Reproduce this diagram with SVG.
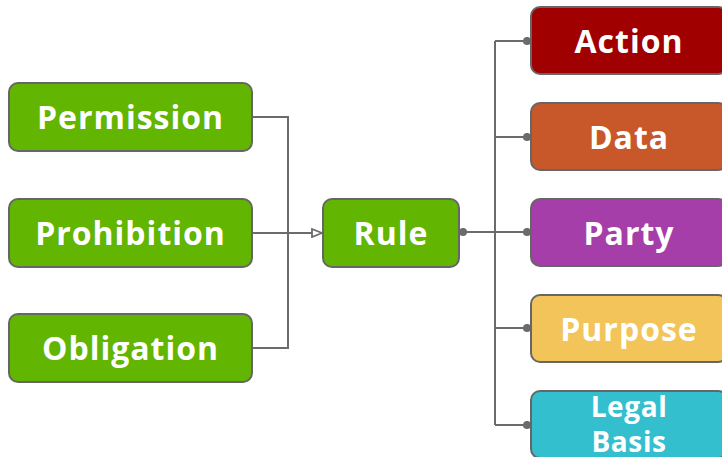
<svg xmlns="http://www.w3.org/2000/svg" width="722" height="457" viewBox="0 0 722 457">
  <style>
    .box { stroke: #666666; stroke-width: 2; }
    .lbl { font-family: "Open Sans", "Liberation Sans", sans-serif; font-weight: 700; font-size: 32px; letter-spacing: 1px; fill: #ffffff; text-anchor: middle; }
    .two { font-size: 28px; letter-spacing: 0.6px; }
    .wire { fill: none; stroke: #6b6b6b; stroke-width: 2; }
    .green { fill: #62b500; }
  </style>
  <defs>
    <marker id="openArrow" viewBox="0 0 12 10" refX="11" refY="5" markerWidth="12" markerHeight="10" markerUnits="userSpaceOnUse" orient="auto">
      <path d="M1,1 L11,5 L1,9 Z" fill="#ffffff" stroke="#6b6b6b" stroke-width="1.8"/>
    </marker>
    <marker id="dot" viewBox="0 0 10 10" refX="5" refY="5" markerWidth="9" markerHeight="9" markerUnits="userSpaceOnUse">
      <circle cx="5" cy="5" r="4.5" fill="#6b6b6b"/>
    </marker>
  </defs>

  <g id="connectors">
    <!-- modalities merge into Rule -->
    <path class="wire" d="M252,117 H288 V348 H252"/>
    <path class="wire" d="M252,233 H322" marker-end="url(#openArrow)"/>
    <!-- Rule fans out to its components -->
    <path class="wire" d="M463,232 H495" marker-start="url(#dot)"/>
    <path class="wire" d="M495,41 V425"/>
    <path class="wire" d="M495,41 H527" marker-end="url(#dot)"/>
    <path class="wire" d="M495,137 H527" marker-end="url(#dot)"/>
    <path class="wire" d="M495,232 H527" marker-end="url(#dot)"/>
    <path class="wire" d="M495,328 H527" marker-end="url(#dot)"/>
    <path class="wire" d="M495,425 H527" marker-end="url(#dot)"/>
  </g>

  <g id="permission">
    <rect class="box green" x="9" y="83" width="243" height="68" rx="9"/>
    <text class="lbl" x="130.5" y="129">Permission</text>
  </g>
  <g id="prohibition">
    <rect class="box green" x="9" y="199" width="243" height="68" rx="9"/>
    <text class="lbl" x="130.5" y="245">Prohibition</text>
  </g>
  <g id="obligation">
    <rect class="box green" x="9" y="314" width="243" height="68" rx="9"/>
    <text class="lbl" x="130.5" y="360">Obligation</text>
  </g>
  <g id="rule">
    <rect class="box green" x="323" y="199" width="136" height="68" rx="9"/>
    <text class="lbl" x="391" y="245">Rule</text>
  </g>

  <g id="action">
    <rect class="box" x="531" y="7" width="196" height="67" rx="9" fill="#a00000"/>
    <text class="lbl" x="629" y="53">Action</text>
  </g>
  <g id="data">
    <rect class="box" x="531" y="103" width="196" height="67" rx="9" fill="#c8572a"/>
    <text class="lbl" x="629" y="149">Data</text>
  </g>
  <g id="party">
    <rect class="box" x="531" y="199" width="196" height="67" rx="9" fill="#a53ea9"/>
    <text class="lbl" x="629" y="245">Party</text>
  </g>
  <g id="purpose">
    <rect class="box" x="531" y="295" width="196" height="67" rx="9" fill="#f2c45a"/>
    <text class="lbl" x="629" y="341">Purpose</text>
  </g>
  <g id="legal-basis">
    <rect class="box" x="531" y="391" width="196" height="67" rx="9" fill="#34bfcf"/>
    <text class="lbl two" x="629" y="417">Legal</text>
    <text class="lbl two" x="629" y="452">Basis</text>
  </g>
</svg>
